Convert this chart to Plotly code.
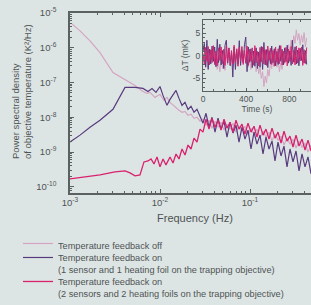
import plotly.graph_objects as go

# ---------------- data ----------------
# shared high-frequency grid (Hz)
HF_FREQ = [3.005e-2, 3.245e-2, 3.504e-2, 3.784e-2, 4.085e-2, 4.411e-2, 4.763e-2, 5.143e-2,
           5.554e-2, 5.995e-2, 6.474e-2, 6.990e-2, 7.548e-2, 8.150e-2, 8.800e-2, 9.502e-2,
           1.026e-1, 1.108e-1, 1.196e-1, 1.292e-1, 1.395e-1, 1.506e-1, 1.626e-1, 1.756e-1,
           1.896e-1, 2.047e-1, 2.211e-1, 2.387e-1, 2.577e-1, 2.783e-1, 3.005e-1, 3.245e-1,
           3.504e-1, 3.784e-1, 4.085e-1, 4.411e-1, 4.763e-1]

# feedback off
OFF_FREQ_LF = [1.052e-3, 1.292e-3, 1.668e-3, 2.154e-3, 3.003e-3, 4.084e-3, 5.275e-3, 6.475e-3,
               7.165e-3, 7.743e-3, 8.799e-3, 9.502e-3, 1.000e-2, 1.108e-2, 1.196e-2, 1.292e-2,
               1.395e-2, 1.506e-2, 1.626e-2, 1.756e-2, 1.896e-2, 2.047e-2, 2.211e-2, 2.387e-2,
               2.577e-2, 2.783e-2]
OFF_PSD_LF = [4.85e-6, 3.06e-6, 1.585e-6, 7.2e-7, 1.93e-7, 1.22e-7, 8.21e-8, 5.53e-8,
              4.85e-8, 5.18e-8, 3.73e-8, 4.25e-8, 4.54e-8, 3.06e-8, 3.73e-8, 2.68e-8,
              2.2e-8, 1.93e-8, 1.585e-8, 1.39e-8, 1.48e-8, 1.14e-8, 1.22e-8, 9.36e-9,
              1.0e-8, 7.69e-9]
OFF_PSD_HF = [8.77e-9, 5.91e-9, 8.21e-9, 4.85e-9, 7.69e-9, 5.18e-9, 7.2e-9, 4.25e-9,
              6.31e-9, 4.54e-9, 6.74e-9, 3.73e-9, 5.53e-9, 3.98e-9, 5.53e-9, 3.06e-9,
              4.85e-9, 3.27e-9, 4.54e-9, 2.51e-9, 3.98e-9, 2.68e-9, 3.73e-9, 2.06e-9,
              3.27e-9, 2.2e-9, 2.87e-9, 1.585e-9, 2.51e-9, 1.69e-9, 2.35e-9, 1.3e-9,
              2.06e-9, 1.39e-9, 1.81e-9, 1.0e-9, 1.585e-9]

# feedback on, 1 sensor + 1 heating foil
ONE_FREQ_LF = [1.000e-3, 1.292e-3, 1.668e-3, 2.154e-3, 3.003e-3, 3.506e-3, 4.084e-3, 5.275e-3,
               6.475e-3, 7.356e-3, 8.151e-3, 9.027e-3, 1.000e-2, 1.080e-2, 1.196e-2, 1.292e-2,
               1.395e-2, 1.506e-2, 1.626e-2, 1.756e-2, 1.896e-2, 2.047e-2, 2.211e-2, 2.387e-2,
               2.577e-2, 2.783e-2]
ONE_PSD_LF = [1.93e-9, 3.06e-9, 5.18e-9, 8.21e-9, 1.69e-8, 3.49e-8, 7.2e-8, 7.2e-8,
              6.74e-8, 5.53e-8, 6.74e-8, 5.18e-8, 7.69e-8, 4.25e-8, 2.2e-8, 3.27e-8,
              4.54e-8, 5.91e-8, 3.49e-8, 2.2e-8, 2.68e-8, 1.69e-8, 2.06e-8, 1.39e-8,
              1.69e-8, 1.07e-8]
ONE_PSD_HF = [6.74e-9, 1.3e-8, 5.18e-9, 1.0e-8, 3.73e-9, 9.36e-9, 4.54e-9, 7.69e-9,
              2.68e-9, 7.2e-9, 3.49e-9, 5.91e-9, 1.93e-9, 5.18e-9, 2.35e-9, 4.25e-9,
              1.22e-9, 3.73e-9, 1.69e-9, 3.06e-9, 8.77e-10, 2.68e-9, 1.22e-9, 2.06e-9,
              5.53e-10, 1.93e-9, 7.69e-10, 1.48e-9, 3.73e-10, 1.22e-9, 5.18e-10, 1.07e-9,
              2.87e-10, 8.77e-10, 3.73e-10, 7.2e-10, 2.35e-10]

# feedback on, 2 sensors + 2 heating foils
TWO_FREQ_LF = [1.000e-3, 1.468e-3, 2.154e-3, 3.162e-3, 4.084e-3, 4.642e-3, 5.275e-3, 5.995e-3,
               6.636e-3, 7.356e-3, 7.943e-3, 8.577e-3, 9.261e-3, 1.000e-2, 1.080e-2, 1.166e-2,
               1.292e-2, 1.395e-2, 1.506e-2, 1.626e-2, 1.756e-2, 1.896e-2, 2.047e-2, 2.211e-2,
               2.387e-2, 2.577e-2, 2.783e-2]
TWO_PSD_LF = [1.69e-10, 1.93e-10, 2.2e-10, 2.68e-10, 2.87e-10, 2.51e-10, 2.06e-10, 2.2e-10,
              5.18e-10, 5.53e-10, 6.31e-10, 4.54e-10, 7.2e-10, 3.73e-10, 6.31e-10, 4.25e-10,
              7.2e-10, 4.85e-10, 8.77e-10, 6.31e-10, 1.22e-9, 8.21e-10, 1.585e-9, 1.22e-9,
              2.51e-9, 1.93e-9, 4.54e-9]
TWO_PSD_HF = [3.73e-9, 8.77e-9, 4.54e-9, 9.36e-9, 5.18e-9, 8.21e-9, 4.25e-9, 8.77e-9,
              4.85e-9, 7.2e-9, 3.73e-9, 8.21e-9, 4.54e-9, 6.31e-9, 3.27e-9, 6.74e-9,
              3.73e-9, 5.53e-9, 2.68e-9, 5.91e-9, 3.06e-9, 4.54e-9, 2.35e-9, 4.85e-9,
              2.51e-9, 3.73e-9, 1.81e-9, 3.98e-9, 2.06e-9, 2.87e-9, 1.39e-9, 3.06e-9,
              1.48e-9, 2.35e-9, 1.14e-9, 2.2e-9, 1.07e-9]

# inset: temperature deviation time series (mK)
TIME_S = [0, 12, 24, 36, 48, 60, 72, 84, 96, 108, 120, 132, 144, 156, 168, 180, 192, 204,
          216, 228, 240, 252, 264, 276, 288, 300, 312, 324, 336, 348, 360, 372, 384, 396,
          408, 420, 432, 444, 456, 468, 480, 492, 504, 516, 528, 540, 552, 564, 576, 588,
          600, 612, 624, 636, 648, 660, 672, 684, 696, 708, 720, 732, 744, 756, 768, 780,
          792, 804, 816, 828, 840, 852, 864, 876, 888, 900, 912, 924, 936, 948, 960]
DT_OFF = [0.5, -1.5, 1.0, -2.5, 0.8, -2.0, 1.2, -1.0, 0.5, -2.0,
          -1.0, -3.0, -1.5, -3.5, -0.5, -2.8, -1.2, -3.2, 0.2, -2.0,
          1.0, -1.5, 0.5, -2.5, 1.5, -1.0, 0.8, -2.2, 1.2, -0.5,
          2.0, -1.2, 0.6, -1.8, 1.0, -2.5, -0.5, -3.0, -1.0, -2.2,
          0.5, -3.5, -1.5, -4.0, -2.5, -5.0, -3.5, -6.8, -4.5, -6.0,
          -3.0, -4.5, -1.5, -2.8, 0.5, -1.5, 1.0, -2.5, -1.0, -3.5,
          -1.5, -3.0, 0.2, -1.8, 1.5, 0.0, 2.5, 0.8, 3.5, 1.5,
          4.5, 2.8, 5.8, 3.5, 5.0, 2.5, 4.6, 3.0, 5.2, 2.0,
          4.0]
DT_ONE = [1.0, 2.8, -2.5, 3.5, -3.0, 1.5, -1.8, 2.2, -1.2, 2.0,
          -2.4, 3.7, -1.5, 2.6, -2.0, 1.2, -2.8, 2.4, 3.5, -1.6,
          1.8, -2.2, 1.0, -4.7, 2.0, -3.0, 1.5, -1.8, 3.4, -2.1,
          1.3, -1.5, 2.5, 4.2, -3.5, 2.0, -1.4, 1.6, -2.6, 1.1,
          -2.3, 1.8, -2.8, 0.9, -2.5, 2.1, -3.0, 3.0, -2.0, 1.4,
          -2.6, 1.2, -1.7, 2.2, -1.5, 1.6, -2.2, 1.0, -1.9, 2.3,
          -1.2, 1.5, -2.0, 1.8, -1.3, 2.4, -1.6, 1.1, -2.1, 3.5,
          -1.4, 2.0, -1.8, 1.3, -2.2, 1.7, -1.0, 2.5, -1.6, 1.2,
          -1.9]
DT_TWO = [0.5, -1.8, 1.9, -1.2, 2.1, -2.0, 1.4, -1.5, 2.3, -1.9,
          1.1, -2.2, 1.8, -1.0, 2.0, -1.7, 1.5, -2.1, 2.2, -1.3,
          1.7, -2.0, 1.2, -1.8, 2.4, -1.4, 1.6, -2.3, 1.9, -1.1,
          2.1, -1.9, 1.3, -1.6, 2.2, -2.1, 1.5, -1.2, 1.8, -2.0,
          2.3, -1.5, 1.0, -2.2, 1.9, -1.3, 2.0, -1.8, 1.4, -2.1,
          2.2, -1.0, 1.7, -1.9, 1.2, -2.3, 2.0, -1.4, 1.6, -1.7,
          2.3, -2.0, 1.1, -1.5, 1.9, -2.2, 1.5, -1.2, 2.1, -1.8,
          1.3, -2.0, 2.2, -1.6, 1.8, -1.1, 2.0, -2.1, 1.4, -1.7,
          1.9]

NAMES = ["Temperature feedback off",
         "Temperature feedback on<br>(1 sensor and 1 heating foil on the trapping objective)",
         "Temperature feedback on<br>(2 sensors and 2 heating foils on the trapping objective)"]
X_TICKS = [1e-3, 1e-2, 1e-1]
X_TICKTEXT = ["10<sup>-3</sup>", "10<sup>-2</sup>", "10<sup>-1</sup>"]
Y_TICKS = [1e-10, 1e-9, 1e-8, 1e-7, 1e-6, 1e-5]
Y_TICKTEXT = ["10<sup>-10</sup>", "10<sup>-9</sup>", "10<sup>-8</sup>",
              "10<sup>-7</sup>", "10<sup>-6</sup>", "10<sup>-5</sup>"]
INSET_XTICKS = [0, 400, 800]
INSET_YTICKS = [-5, 0, 5]
INSET_YTICKTEXT = ["-5", "0", "5"]

# ---------------- style ----------------
BG = "#dde5e4"
INSET_BG = "#e2e9e8"
AX = "#5b6061"
TXT = "#4e5354"
C_OFF = "#d4a4c2"
C_ONE = "#583a7e"
C_TWO = "#d8226e"
FONT = "Liberation Sans, Arial, sans-serif"

fig = go.Figure()

fig.add_trace(go.Scatter(x=OFF_FREQ_LF + HF_FREQ, y=OFF_PSD_LF + OFF_PSD_HF, mode="lines",
                         name=NAMES[0], line=dict(color=C_OFF, width=1.2), legend="legend"))
fig.add_trace(go.Scatter(x=ONE_FREQ_LF + HF_FREQ, y=ONE_PSD_LF + ONE_PSD_HF, mode="lines",
                         name=NAMES[1], line=dict(color=C_ONE, width=1.2), legend="legend2"))
fig.add_trace(go.Scatter(x=TWO_FREQ_LF + HF_FREQ, y=TWO_PSD_LF + TWO_PSD_HF, mode="lines",
                         name=NAMES[2], line=dict(color=C_TWO, width=1.3), legend="legend3"))

for vals, col in [(DT_OFF, C_OFF), (DT_ONE, C_ONE), (DT_TWO, C_TWO)]:
    fig.add_trace(go.Scatter(x=TIME_S, y=vals, mode="lines", showlegend=False,
                             line=dict(color=col, width=1), xaxis="x2", yaxis="y2"))

W, H = 311, 305
ML, MT, MB = 70, 13, 112
PW, PH = W - ML, H - MT - MB


def px_x(p):
    return (p - ML) / PW


def px_y(p):
    return (H - MB - p) / PH


def legend_at(row_center_px):
    return dict(x=px_x(18), xanchor="left", y=px_y(row_center_px - 14), yanchor="top",
                font=dict(size=9.2, color=TXT), bgcolor="rgba(0,0,0,0)",
                itemwidth=30, valign="top", traceorder="normal", tracegroupgap=0)


fig.update_layout(
    width=W, height=H,
    margin=dict(l=ML, r=0, t=MT, b=MB, pad=0, autoexpand=False),
    paper_bgcolor=BG, plot_bgcolor=BG,
    font=dict(family=FONT, color=TXT, size=9),
    xaxis=dict(type="log", range=[-3, -0.3222], domain=[0, 1], anchor="y", automargin=False,
               tickvals=X_TICKS, ticktext=X_TICKTEXT, ticks="inside", ticklen=4,
               tickcolor=AX, showline=True, linecolor=AX, linewidth=1.5, mirror="allticks",
               showgrid=False, zeroline=False, tickfont=dict(size=9.5, color=TXT),
               minor=dict(dtick="D1", ticks="inside", ticklen=2, tickcolor=AX, showgrid=False)),
    yaxis=dict(type="log", range=[-10.18, -5], domain=[0, 1], anchor="x", automargin=False,
               tickvals=Y_TICKS, ticktext=Y_TICKTEXT, ticks="inside", ticklen=4,
               tickcolor=AX, showline=True, linecolor=AX, linewidth=1.5, mirror=False,
               showgrid=False, zeroline=False, tickfont=dict(size=9.5, color=TXT),
               ticklabelstandoff=10,
               minor=dict(dtick="D1", ticks="inside", ticklen=2, tickcolor=AX, showgrid=False)),
    xaxis2=dict(range=[0, 1000], domain=[px_x(203), 1.0], anchor="y2", automargin=False,
                tickvals=INSET_XTICKS, ticks="inside", ticklen=3, tickcolor=AX,
                showline=True, linecolor=AX, linewidth=1.2, mirror="allticks",
                showgrid=False, zeroline=False, tickfont=dict(size=8.5, color=TXT),
                minor=dict(dtick=100, ticks="inside", ticklen=2, tickcolor=AX),
                title=dict(text="Time (s)", font=dict(size=8.5, color=TXT), standoff=0)),
    yaxis2=dict(range=[-7.8, 8], domain=[px_y(91), px_y(20)], anchor="x2", automargin=False,
                tickvals=INSET_YTICKS, ticktext=INSET_YTICKTEXT, ticks="inside", ticklen=3,
                tickcolor=AX, showline=True, linecolor=AX, linewidth=1.2, mirror=False,
                showgrid=False, zeroline=False, tickfont=dict(size=8.5, color=TXT),
                minor=dict(dtick=1, ticks="inside", ticklen=2, tickcolor=AX),
                title=dict(text="ΔT (mK)", font=dict(size=8.5, color=TXT), standoff=2)),
    legend=legend_at(245),
    legend2=legend_at(259),
    legend3=legend_at(283),
    shapes=[dict(type="rect", xref="x2 domain", yref="y2 domain", x0=0, x1=1, y0=0, y1=1,
                 fillcolor=INSET_BG, line=dict(width=0), layer="below")],
    annotations=[
        dict(text="Power spectral density<br>of objective temperature (K²/Hz)",
             textangle=-90, x=px_x(21), y=px_y(92), xref="paper", yref="paper",
             xanchor="center", yanchor="middle", align="left", showarrow=False,
             font=dict(size=9.5, color=TXT)),
        dict(text="Frequency (Hz)", x=px_x(195), y=px_y(218), xref="paper", yref="paper",
             xanchor="center", yanchor="middle", showarrow=False,
             font=dict(size=11, color=TXT)),
    ],
)

fig.write_html("out.html", config={"displayModeBar": False},
               post_script="document.body.style.margin='0px';")
